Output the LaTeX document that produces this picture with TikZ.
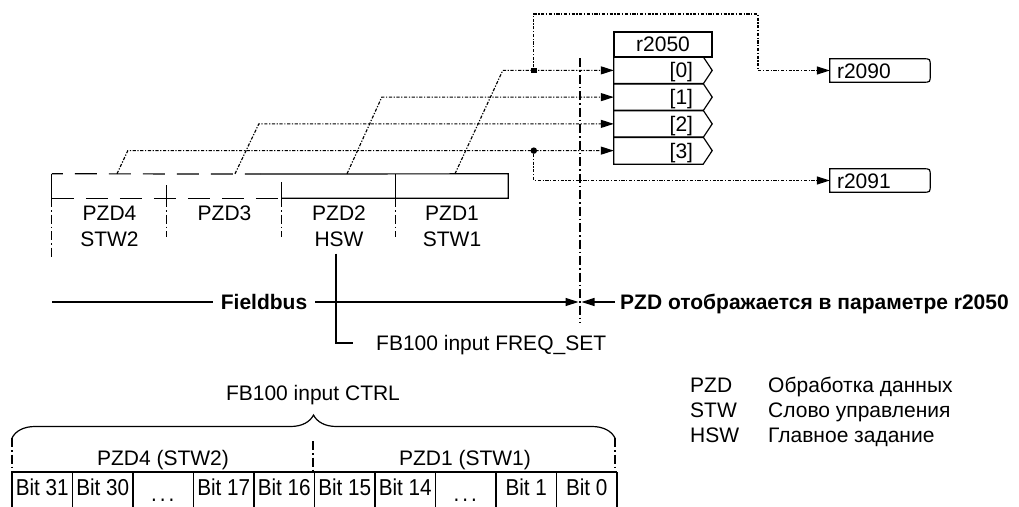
\documentclass[tikz,border=0pt]{standalone}
\usepackage{fontspec}
\setmainfont{Liberation Sans}
\newfontfamily\narrowfont[FakeStretch=0.9]{Liberation Sans}
\usetikzlibrary{arrows.meta,decorations.pathreplacing,calc}
\newcommand{\mydots}{.\hspace{3pt}.\hspace{3pt}.}
\begin{document}
\begin{tikzpicture}[x=1pt,y=-1pt,
  every node/.style={inner sep=0pt, font=\fontsize{21}{26}\selectfont},
  txt/.style={text height=15pt, text depth=0pt},
  boldtxt/.style={txt, font=\fontsize{21}{26}\selectfont\bfseries},
  bitfont/.style={font=\narrowfont\fontsize{23}{26}\selectfont},
  lw/.style={line width=1.2pt},
  sig/.style={line width=1.15pt, dash pattern=on 3.2pt off 1.6pt on 1.2pt off 1.6pt},
  sepline/.style={line width=1.1pt, dash pattern=on 9pt off 3pt on 1.5pt off 3pt},
  longdash/.style={line width=1.2pt, dash pattern=on 22pt off 12pt},
  arrowto/.style={-{Triangle[length=13pt,width=8pt]}},
  rowcell/.style={minimum width=89pt, minimum height=26.75pt},
  fieldcell/.style={minimum height=24pt},
  outbox/.style={minimum width=100pt, minimum height=23pt},
]
\useasboundingbox (0,0) rectangle (1019,506);

% ---------------- r2050 block ----------------
\node[lw, draw, minimum width=98pt, minimum height=25pt] (title) at (663,44.5) {r2050};
\node[rowcell] (r0) at (658.5,70.375) {};
\node[rowcell] (r1) at (658.5,97.125) {};
\node[rowcell] (r2) at (658.5,123.875) {};
\node[rowcell] (r3) at (658.5,150.625) {};
\foreach \r in {r0,r1,r2,r3}
  \draw[lw] (\r.north west) -- (\r.north east) -- ($(\r.east)+(9,0)$) -- (\r.south east) -- (\r.south west) -- cycle;
\node[txt, anchor=east] (l0) at ($(r0.east)+(-10,0)$) {[0]};
\node[txt, anchor=east] (l1) at ($(r1.east)+(-10,0)$) {[1]};
\node[txt, anchor=east] (l2) at ($(r2.east)+(-10,0)$) {[2]};
\node[txt, anchor=east] (l3) at ($(r3.east)+(-10,0)$) {[3]};

% ---------------- output boxes ----------------
\node[outbox] (r2090) at (880,70.5) {};
\node[outbox] (r2091) at (880,180.5) {};
\foreach \b in {r2090,r2091}
  \draw[lw] (\b.south west) -- (\b.north west) -- ($(\b.north east)+(-7,0)$)
     .. controls (\b.north east) .. ($(\b.north east)+(0,7)$)
     -- ($(\b.south east)+(0,-7)$)
     .. controls (\b.south east) .. ($(\b.south east)+(-7,0)$) -- cycle;
\node[txt, anchor=west] (t2090) at ($(r2090.west)+(7,0)$) {r2090};
\node[txt, anchor=west] (t2091) at ($(r2091.west)+(7,0)$) {r2091};

% ---------------- PZD telegram row ----------------
\node[fieldcell, minimum width=115pt] (f4) at (109.5,186) {};
\node[fieldcell, minimum width=115pt] (f3) at (224.5,186) {};
\node[fieldcell, minimum width=114pt] (f2) at (339,186) {};
\node[fieldcell, minimum width=112pt] (f1) at (452,186) {};
% outline
\draw[longdash, dash phase=11pt] (f4.north west) -- (260,174);
\draw[lw] (260,174) -- (f1.north east) -- (f1.south east) -- (f2.south west);
\draw[longdash] (f4.south west) -- (f3.south east);
\draw[lw] (f4.north west) -- (f4.south west);
\draw[lw] (f1.north west) -- (f1.south west);
\draw[lw] ($(f3.south west)+(0,-13)$) -- (f3.south west);
\draw[lw] ($(f2.south west)+(0,-16)$) -- (f2.south west);
\draw[sepline] (f4.south west) -- ++(0,60);
\draw[sepline] (f3.south west) -- ++(0,39);
\draw[sepline] (f2.south west) -- ++(0,39);
\draw[sepline] (f1.south west) -- ++(0,39);
% labels
\node[txt] (n4a) at (109.5,213) {PZD4};
\node[txt] (n4b) at (109.5,239) {STW2};
\node[txt] (n3a) at (224.5,213) {PZD3};
\node[txt] (n2a) at (339,213) {PZD2};
\node[txt] (n2b) at (339,239) {HSW};
\node[txt] (n1a) at (452,213) {PZD1};
\node[txt] (n1b) at (452,239) {STW1};

% ---------------- signal lines ----------------
\coordinate (b0) at ($(r0.west)+(-111,0)$);
\coordinate (b1) at ($(r1.west)+(-232,0)$);
\coordinate (b2) at ($(r2.west)+(-355,0)$);
\coordinate (b3) at ($(r3.west)+(-486,0)$);
\draw[sig, arrowto] ($(f1.north)+(3,0)$) -- (b0) -- (r0.west);
\draw[sig, arrowto] ($(f2.north)+(8,0)$) -- (b1) -- (r1.west);
\draw[sig, arrowto] ($(f3.north)+(10.5,0)$) -- (b2) -- (r2.west);
\draw[sig, arrowto] ($(f4.north)+(7.5,0)$) -- (b3) -- (r3.west);
\node[fill, minimum size=5.5pt] (j0) at ($(r0.west)+(-80,0)$) {};
\node[circle, fill, minimum size=6.5pt] (j3) at ($(r3.west)+(-80,0)$) {};
\coordinate (c1) at (758,14);
\draw[sig, arrowto] (j0) |- (c1) |- (r2090.west);
\draw[sig, arrowto] (j3) |- (r2091.west);

% ---------------- separation line & fieldbus ----------------
\coordinate (vtop) at (580,58);
\coordinate (vbot) at (580,323);
\draw[sepline] (vtop) -- (vbot);
\coordinate (meet) at (580,302);
\coordinate (fbl) at (52,302);
\node[boldtxt, inner xsep=8pt] (fb) at (264,302) {Fieldbus};
\draw[lw] (fbl) -- (fb.west);
\draw[lw, arrowto] (fb.east) -- ($(meet)+(-1.5,0)$);
\node[boldtxt, anchor=west] (pzdtxt) at (620,302) {PZD отображается в параметре r2050};
\draw[lw, arrowto] ($(pzdtxt.west)+(-5,0)$) -- ($(meet)+(1.5,0)$);
\node[txt, anchor=west] (freq) at (376,343) {FB100 input FREQ\_SET};
\draw[lw] ($(n2b.south)+(-3,7)$) |- ($(freq.west)+(-23,0)$);

% ---------------- control word ----------------
\node[txt] (ctrl) at (313,393) {FB100 input CTRL};
\coordinate (bl) at (12,438);
\coordinate (br) at (615,438);
\draw[lw, decorate, decoration={brace, amplitude=23pt}] (bl) -- (br);
\draw[sepline] (bl) -- (12,472);
\draw[sepline] (313,441) -- (313,472);
\draw[sepline] (br) -- (615,472);
\node[txt] (g4) at (163,458) {PZD4 (STW2)};
\node[txt] (g1) at (465,458) {PZD1 (STW1)};
\draw[lw] (12,472) -- (617,472);
\foreach \i in {0,...,10}
  \draw[lw] (12+60.5*\i,472) -- (12+60.5*\i,512);
\foreach \t/\i in {Bit 31/0, Bit 30/1, Bit 17/3, Bit 16/4, Bit 15/5, Bit 14/6, Bit 1/8, Bit 0/9}
  \node[bitfont, anchor=base] (bit\i) at (42.25+60.5*\i,495) {\t};
\node[bitfont, anchor=base] (dotsA) at (162.75,501) {\mydots};
\node[bitfont, anchor=base] (dotsB) at (465.25,501) {\mydots};

% ---------------- legend ----------------
\node[txt, anchor=west] (k1) at (690,385) {PZD};
\node[txt, anchor=west] (k2) at (690,410) {STW};
\node[txt, anchor=west] (k3) at (690,435) {HSW};
\node[txt, anchor=west] (v1) at (768,385) {Обработка данных};
\node[txt, anchor=west] (v2) at (768,410) {Слово управления};
\node[txt, anchor=west] (v3) at (768,435) {Главное задание};
\end{tikzpicture}
\end{document}
